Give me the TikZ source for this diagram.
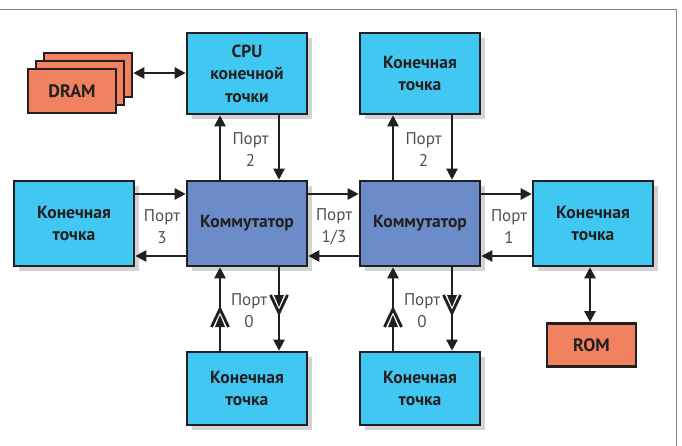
\documentclass[tikz,border=0pt]{standalone}
\usepackage{fontspec}
\setmainfont{PT Sans}
\usetikzlibrary{arrows.meta,calc}

\definecolor{epblue}{RGB}{64,199,242}
\definecolor{swblue}{RGB}{107,140,200}
\definecolor{memorange}{RGB}{240,130,96}
\definecolor{edge}{RGB}{35,31,32}
\definecolor{shade}{RGB}{210,211,213}
\definecolor{framegray}{RGB}{130,130,130}
\definecolor{porttext}{RGB}{80,80,80}

\tikzset{
  unit/.style={draw=edge, line width=2.6pt, rectangle, inner sep=0pt, align=center,
    text=edge, font=\bfseries\fontsize{17.5}{22.5}\selectfont},
  shadowed/.style={preaction={fill=shade, draw=none, transform canvas={shift={(5pt,-5pt)}}}},
  endpoint/.style={unit, shadowed, fill=epblue, minimum width=120pt, minimum height=85pt},
  switchbox/.style={unit, shadowed, fill=swblue, minimum width=120pt, minimum height=85pt},
  memory/.style={unit, fill=memorange, minimum width=89pt, minimum height=43pt,
    font=\bfseries\fontsize{18}{20}\selectfont},
  portlabel/.style={align=center, text=porttext, inner sep=0pt,
    font=\fontsize{17}{22}\selectfont},
  link/.style={draw=edge, line width=2.4pt},
  arr/.style={link, -{Triangle[length=11pt,width=11pt]}},
  biarr/.style={link, {Triangle[length=11pt,width=11pt]}-{Triangle[length=11pt,width=11pt]}},
}

\begin{document}
\begin{tikzpicture}[x=1pt, y=-1pt]
\useasboundingbox (0,0) rectangle (682,446);

% outer frame (top and right edges only)
\draw[framegray, line width=1pt] (0,10) -- (676,10) -- (676,446);

% boxes
\node[endpoint, minimum height=81pt] (cpu) at (247,73.5) {CPU\\конечной\\точки};
\node[endpoint, minimum height=81pt] (ept) at (420,73.5) {Конечная\\точка};
\node[endpoint] (epl) at (74,223.5) {Конечная\\точка};
\node[switchbox] (swa) at (247,223.5) {Коммутатор};
\node[switchbox] (swb) at (420,223.5) {Коммутатор};
\node[endpoint] (epr) at (593,223.5) {Конечная\\точка};
\node[endpoint, minimum height=73pt] (epba) at (247,388.5) {Конечная\\точка};
\node[endpoint, minimum height=73pt] (epbb) at (420,388.5) {Конечная\\точка};
\node[memory] (rom) at (591.5,345) {ROM};

% DRAM stack
\node[memory, minimum width=88pt, minimum height=44pt] (dramc) at (88,75) {};
\node[memory, minimum width=88pt, minimum height=44pt] (dramb) at (80,83) {};
\node[memory, minimum width=88pt, minimum height=44pt] (drama) at (72,91) {DRAM};

% guide coordinates for the vertical and horizontal links
\coordinate (xa1) at (220,0);
\coordinate (xa2) at (279,0);
\coordinate (xb1) at (393,0);
\coordinate (xb2) at (452,0);
\coordinate (xrom) at (590,0);
\coordinate (yup) at (0,194);
\coordinate (ydn) at (0,256);
\coordinate (ydram) at (0,73);

% memory links
\draw[biarr] (dramc.east |- ydram) -- (cpu.west |- ydram);
\draw[biarr] (epr.south -| xrom) -- (rom.north -| xrom);

% port 2 links
\draw[arr] (swa.north -| xa1) -- (cpu.south -| xa1);
\draw[arr] (cpu.south -| xa2) -- (swa.north -| xa2);
\draw[arr] (swb.north -| xb1) -- (ept.south -| xb1);
\draw[arr] (ept.south -| xb2) -- (swb.north -| xb2);

% horizontal links
\draw[arr] (epl.east |- yup) -- (swa.west |- yup);
\draw[arr] (swa.west |- ydn) -- (epl.east |- ydn);
\draw[arr] (swa.east |- yup) -- (swb.west |- yup);
\draw[arr] (swb.west |- ydn) -- (swa.east |- ydn);
\draw[arr] (swb.east |- yup) -- (epr.west |- yup);
\draw[arr] (epr.west |- ydn) -- (swb.east |- ydn);

% port 0 links with lane markers
\coordinate (yua) at (0,309);
\coordinate (yub) at (0,327);
\coordinate (yda) at (0,295);
\coordinate (ydb) at (0,313);
\foreach \sw/\ep/\xu/\xd in {swa/epba/xa1/xa2, swb/epbb/xb1/xb2}{
  % upward link
  \coordinate (ua) at (\xu |- yua);
  \coordinate (ub) at (\xu |- yub);
  \draw[link] (\ep.north -| \xu) -- (ub);
  \draw[arr] (ua) -- (\sw.south -| \xu);
  \draw[link, line width=2.8pt, line join=miter] ($(ua)+(-8.5,18)$) -- (ua) -- ($(ua)+(8.5,18)$);
  \fill[edge] ($(ub)+(-5,0)$) -- ($(ub)+(0,-12)$) -- ($(ub)+(5,0)$) -- cycle;
  % downward link
  \coordinate (da) at (\xd |- yda);
  \coordinate (db) at (\xd |- ydb);
  \draw[link] (\sw.south -| \xd) -- (da);
  \draw[arr] (db) -- (\ep.north -| \xd);
  \draw[link, line width=2.8pt, line join=miter] ($(db)+(-8.5,-18)$) -- (db) -- ($(db)+(8.5,-18)$);
  \fill[edge] ($(da)+(-5,0)$) -- ($(da)+(0,12)$) -- ($(da)+(5,0)$) -- cycle;
}

% port labels
\node[portlabel] (pa2) at (250.5,150) {Порт\\2};
\node[portlabel] (pb2) at (423.5,150) {Порт\\2};
\node[portlabel] (pa3) at (162,227) {Порт\\3};
\node[portlabel] (pab) at (334,227) {Порт\\1/3};
\node[portlabel] (pb1) at (509,227) {Порт\\1};
\node[portlabel] (pa0) at (249,311) {Порт\\0};
\node[portlabel] (pb0) at (422,311) {Порт\\0};
\end{tikzpicture}
\end{document}
